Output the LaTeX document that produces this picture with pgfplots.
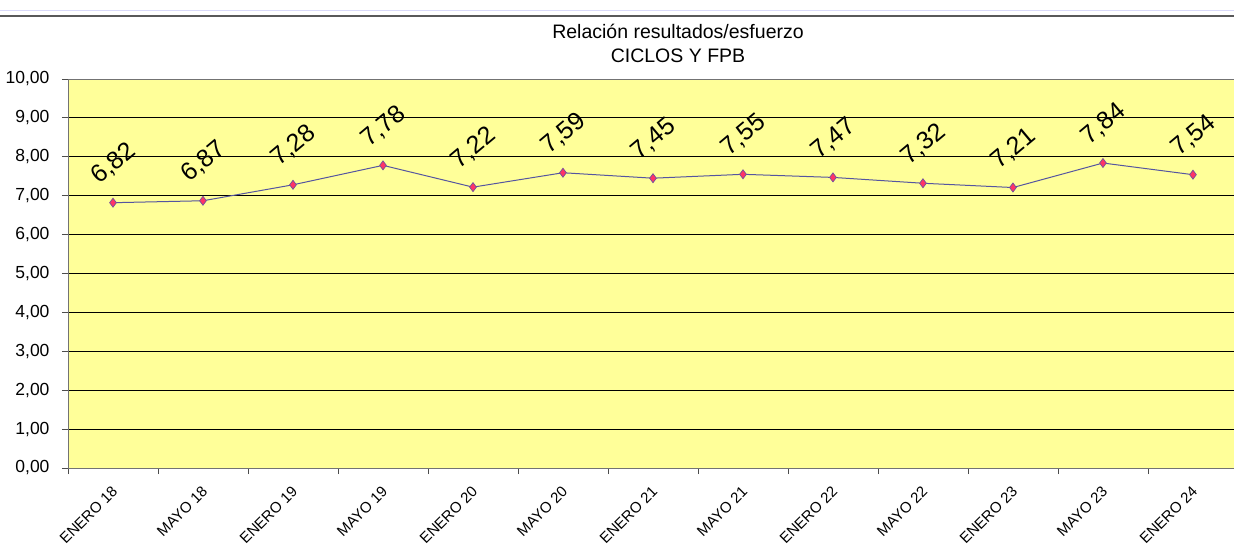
\documentclass[border=0pt]{standalone}
\usepackage{pgfplots}
\pgfplotsset{compat=1.18}
\usepackage{fontspec}
\setmainfont{Liberation Sans}
\definecolor{bgyellow}{HTML}{FFFF99}
\definecolor{linecol}{HTML}{5555A0}
\definecolor{markfill}{HTML}{FF3366}
\definecolor{markdraw}{HTML}{7050A0}
\begin{document}
\begin{tikzpicture}
\begin{axis}[
  scale only axis,
  width=1166pt, height=389pt,
  xmin=-0.5, xmax=12.456,
  ymin=0, ymax=10,
  axis background/.style={fill=bgyellow},
  axis line style={draw=black!55, line width=0.9pt},
  tick pos=left,
  ytick={0,1,...,10},
  ymajorgrids,
  major grid style={black, line width=0.8pt},
  tick align=outside,
  major tick length=6pt,
  tick style={black!70, line width=0.9pt},
  yticklabel style={font=\fontsize{17.5}{20}\selectfont, xshift=-9pt},
  /pgf/number format/.cd, fixed, fixed zerofill, precision=2, use comma, assume math mode=true,
  /pgfplots/.cd,
  xtick={-0.5,0.5,...,12.5},
  xticklabels={},
  extra x ticks={0,1,...,12},
  extra x tick labels={ENERO 18,MAYO 18,ENERO 19,MAYO 19,ENERO 20,MAYO 20,ENERO 21,MAYO 21,ENERO 22,MAYO 22,ENERO 23,MAYO 23,ENERO 24},
  extra x tick style={major tick length=0pt, grid=none,
    xticklabel style={xshift=-2pt, yshift=-12pt, rotate=45, anchor=north east, font=\fontsize{15}{17}\selectfont}},
  clip=false,
]
\addplot[color=linecol, line width=1pt, mark=diamond*, mark size=4.5pt,
  mark options={fill=markfill, draw=markdraw, line width=0.7pt},
  nodes near coords={\pgfmathprintnumber[fixed,fixed zerofill,precision=2,use comma,assume math mode=true]{\pgfplotspointmeta}},
  point meta=y,
  every node near coord/.style={xshift=1pt, yshift=39pt, rotate=40, anchor=center, font=\fontsize{25}{27}\selectfont, black}
] coordinates {
(0,6.82) (1,6.87) (2,7.28) (3,7.78) (4,7.22) (5,7.59) (6,7.45) (7,7.55) (8,7.47) (9,7.32) (10,7.21) (11,7.84) (12,7.54)
};
\end{axis}
\draw[color=black!15!blue!15, line width=1pt] (-68pt,457pt) -- (1166pt,457pt);
\draw[color=black!65, line width=1.5pt] (-68pt,452pt) -- (1166pt,452pt);
\node[align=center, font=\fontsize{19.5}{24}\selectfont] at (610pt,425pt) {Relación resultados/esfuerzo\\CICLOS Y FPB};
\pgfresetboundingbox
\path (-68pt,-89pt) rectangle (1166pt,468pt);
\end{tikzpicture}
\end{document}
